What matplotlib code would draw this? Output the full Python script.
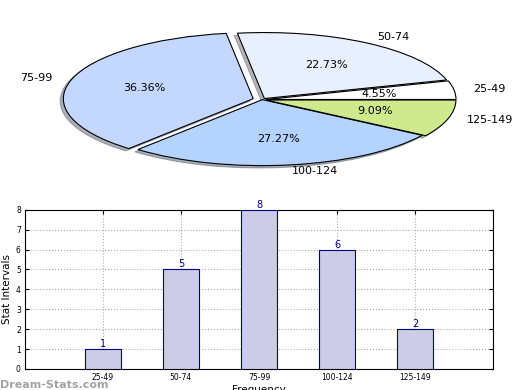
import matplotlib
matplotlib.use("Agg")
import matplotlib.pyplot as plt

# dados
intervals = ["25-49", "50-74", "75-99", "100-124", "125-149"]
counts = [1, 5, 8, 6, 2]
pie_colors = ["#ffffff", "#e8f0ff", "#c4d8ff", "#b4d4ff", "#cfea8c"]
explode = [0.02, 0.02, 0.05, 0.0, 0.02]

fig = plt.figure(figsize=(5.2, 3.9), dpi=100)

# Gráfico de pizza (elíptico)
ax_pie = fig.add_axes([0.048, 0.533, 0.913, 0.423])
wedges, texts, autotexts = ax_pie.pie(
    counts, labels=intervals, colors=pie_colors, explode=explode,
    autopct="%.2f%%", startangle=0,
    shadow={"ox": -0.012, "oy": -0.025, "shade": 0.55},
    wedgeprops={"edgecolor": "black", "linewidth": 0.8},
    textprops={"fontsize": 8})
ax_pie.set_aspect("auto")
ax_pie.set_xlim(-1.25, 1.25)
ax_pie.set_ylim(-1.25, 1.25)
ax_pie.axis("off")

# Gráfico de barras
ax = fig.add_axes([0.048, 0.054, 0.9, 0.408])
pos = list(range(1, len(counts) + 1))
ax.bar(pos, counts, width=0.46, color="#ccccE6", edgecolor="#000080",
       linewidth=0.8, zorder=3)
for p, c in zip(pos, counts):
    ax.text(p, c, str(c), ha="center", va="bottom", fontsize=7,
            color="#000080", zorder=4)
ax.set_xlim(0, 6)
ax.set_ylim(0, 8)
ax.set_xticks(pos)
ax.set_xticklabels(intervals)
ax.set_yticks(range(0, 9))
ax.tick_params(labelsize=5.5, direction="in", top=True, right=True,
               length=3, pad=3)
ax.grid(True, linestyle=":", color="#aaaaaa", linewidth=0.8, zorder=0)
ax.set_xlabel("Frequency", fontsize=7.5, labelpad=2)
ax.set_ylabel("Stat Intervals", fontsize=7.5, labelpad=3)

fig.text(0.0, 0.005, "Dream-Stats.com", fontsize=8, color="#999999",
         fontweight="bold", alpha=0.9)

fig.savefig("out.png", dpi=100)
